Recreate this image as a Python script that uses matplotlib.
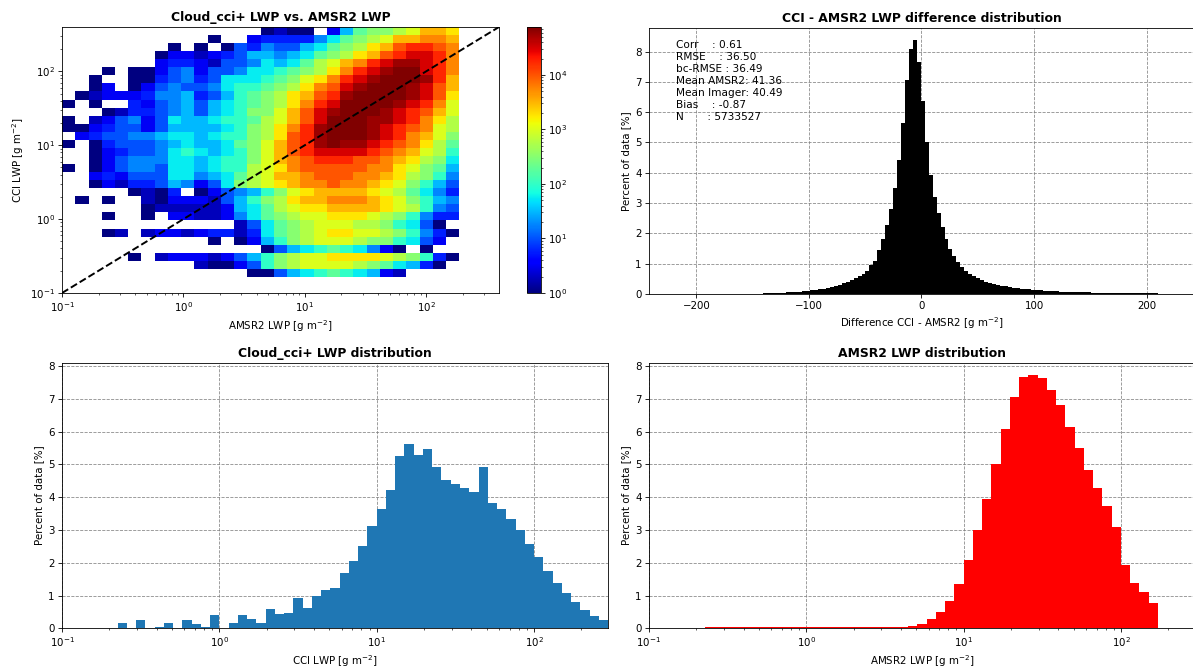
import numpy as np
import matplotlib
matplotlib.use('Agg')
import matplotlib.pyplot as plt
from matplotlib.colors import LogNorm

# ---- 2D histogram (CCI vs AMSR2), one char per cell, top row first ----
# char index in LEVELS * 0.25 = log10(count); '.' = empty cell
LEVELS = "0123456789ABCDEFGHIJK"
density_rows = [
    "...............0" + "100.269AABCEED",
    "...........0..23" + "333579ABCEEFFE",
    "........0.0.0435" + "44679ABDEGHHGF",
    ".......022123466" + "5679ABDEGHIIHF",
    ".......233214" + "457679BCEFHIJJIHF",
    "...0.00245244" + "57789ABDFHIJKKIHF",
    "..0..00345347" + "7789ACDFHIJKKKJHE",
    "..02.02454457" + "889ABDFGIJKKKJIGE",
    ".012223556346" + "89ABDEGHJKKKKJIGD",
    "0.0..32456467" + "89ABDFHIKKKKJIHFC",
    "...0133456467" + "8AACEGIJKKKJIHGEC",
    "0.12452476678" + "89BCEGIKKKJJIHFDB",
    "0023442466667" + "8ABDFHJKKKJIHGFCB",
    ".234455677678" + "8ABDGHJKKKJIHFECA",
    "0.03444567667" + "9ACEGHJKJJIHGFDB9",
    "..02344578767" + "8ACEGHIIIIHGFECB8",
    "..02455577678" + "8ACEFGHHHGGFEDBA7",
    "0.02455477678" + "8BCDFGGGGGFFDCA96",
    "..23244477567" + "9BCEEFGGGFFEDBA85",
    "..02133465247" + "ABCDEFFGFFEDCA864",
    ".....0103.024" + "568ACDEEEEDCB9753",
    ".0.0..1022214" + "68ABDEEFFFEDCA865",
    "......0111112" + "679BCDDEEEEDCB854",
    "...0..0.22112" + "579ABCCDDDCBA8533",
    ".............147" + "9ABCCCBBA8740.",
    "...01.1221233137" + "9ABCDDCCBA8530",
    "...........0.026" + "8ABCCCBAA8742.",
    "...............0" + "4678987520.0..",
    ".....0.122212468" + "ABCCDDDDCBA830",
    "..........100248" + "ABCCCCBA97630.",
    "..............00" + "4678987621....",
    "................" + "..............",
    "................" + "..............",
]

# ---- difference histogram, CCI - AMSR2 [% of data], 100 bins ----
diff_range = (-141, 210)
diff_pct = [
    0.03, 0.03, 0.03, 0.035, 0.04, 0.045, 0.05, 0.06, 0.07, 0.08,
    0.09, 0.11, 0.12, 0.14, 0.16, 0.18, 0.21, 0.24, 0.27, 0.31,
    0.35, 0.40, 0.46, 0.52, 0.59, 0.66, 0.75, 0.95, 1.10, 1.45,
    1.80, 2.27, 2.80, 3.50, 4.42, 5.65, 7.05, 8.10, 8.37, 7.65,
    6.37, 5.00, 3.93, 3.20, 2.66, 2.22, 1.80, 1.50, 1.25, 1.05,
    0.89, 0.77, 0.67, 0.59, 0.52, 0.46, 0.41, 0.37, 0.33, 0.30,
    0.27, 0.25, 0.23, 0.21, 0.19, 0.18, 0.16, 0.15, 0.14, 0.13,
    0.12, 0.11, 0.10, 0.09, 0.085, 0.08, 0.075, 0.07, 0.065, 0.06,
    0.055, 0.05, 0.05, 0.045, 0.045, 0.04, 0.04, 0.04, 0.035, 0.035,
    0.035, 0.03, 0.03, 0.03, 0.03, 0.03, 0.03, 0.025, 0.025, 0.025,
]
stats_labels = ['Corr', 'RMSE', 'bc-RMSE', 'Mean AMSR2', 'Mean Imager', 'Bias', 'N']
stats_values = ['0.61', '36.50', '36.49', '41.36', '40.49', '-0.87', '5733527']

# ---- LWP distributions [% of data], 59 log bins (17 per decade from 0.1) ----
cci_pct = [
    0, 0, 0, 0, 0, 0.02, 0.17, 0, 0.25, 0,
    0.03, 0.17, 0, 0.25, 0.13, 0.03, 0.42, 0, 0.17, 0.42,
    0.28, 0.17, 0.58, 0.44, 0.46, 0.92, 0.62, 0.98, 1.17, 1.24,
    1.70, 2.05, 2.52, 3.12, 3.63, 4.21, 5.25, 5.62, 5.30, 5.48,
    4.92, 4.52, 4.40, 4.27, 4.15, 4.93, 3.83, 3.65, 3.32, 3.01,
    2.58, 2.19, 1.75, 1.39, 1.09, 0.79, 0.55, 0.38, 0.26,
]
amsr_pct = [
    0, 0, 0, 0, 0, 0, 0.03, 0.03, 0.03, 0.03,
    0.03, 0.03, 0.03, 0.03, 0.03, 0.03, 0.03, 0.03, 0.03, 0.03,
    0.03, 0.03, 0.03, 0.03, 0.03, 0.03, 0.04, 0.05, 0.08, 0.14,
    0.28, 0.50, 0.83, 1.34, 2.07, 3.00, 3.94, 5.00, 6.07, 7.05,
    7.67, 7.72, 7.63, 7.27, 6.80, 6.15, 5.50, 4.82, 4.27, 3.72,
    3.08, 1.92, 1.39, 1.12, 0.77, 0, 0, 0, 0,
]

plt.rcParams.update({
    'font.size': 7.4,
    'axes.linewidth': 0.6,
    'axes.titlepad': 4.4,
    'axes.labelpad': 3,
    'xtick.major.size': 2.6, 'ytick.major.size': 2.6,
    'xtick.minor.size': 1.5, 'ytick.minor.size': 1.5,
    'xtick.major.width': 0.6, 'ytick.major.width': 0.6,
    'xtick.minor.width': 0.45, 'ytick.minor.width': 0.45,
    'xtick.major.pad': 2.6, 'ytick.major.pad': 2.6,
})
unit = r'[g m$^{-2}$]'


def style_grid(ax):
    ax.set_axisbelow(True)
    ax.grid(True, which='major', linestyle='--', color='gray', linewidth=0.6, alpha=0.9)


fig = plt.figure(figsize=(11.93, 6.68), dpi=100)

# -- top left: 2D histogram --
ax = fig.add_axes([0.0520, 0.5614, 0.3663, 0.3982])
cax = fig.add_axes([0.4417, 0.5614, 0.0117, 0.3982])
edges_2d = np.logspace(-1, 2.6, 34)
grid = np.full((33, 30), np.nan)
for i, row in enumerate(density_rows[::-1]):
    for j, ch in enumerate(row):
        if ch != '.':
            grid[i, j] = 10 ** (LEVELS.index(ch) * 0.25)
mesh = ax.pcolormesh(edges_2d[:31], edges_2d, np.ma.masked_invalid(grid),
                     cmap='jet', norm=LogNorm(vmin=1, vmax=7.6e4))
ax.plot(edges_2d[[0, -1]], edges_2d[[0, -1]], 'k--', linewidth=1.4)
ax.set_xscale('log')
ax.set_yscale('log')
ax.set_xlim(edges_2d[0], edges_2d[-1])
ax.set_ylim(edges_2d[0], edges_2d[-1])
ax.set_title('Cloud_cci+ LWP vs. AMSR2 LWP', fontweight='bold')
ax.set_xlabel('AMSR2 LWP ' + unit)
ax.set_ylabel('CCI LWP ' + unit)
cb = fig.colorbar(mesh, cax=cax)
cb.outline.set_linewidth(0.6)

# -- top right: difference distribution --
ax = fig.add_axes([0.5440, 0.5599, 0.4568, 0.3987])
diff_edges = np.linspace(diff_range[0], diff_range[1], len(diff_pct) + 1)
ax.hist(diff_edges[:-1], bins=diff_edges, weights=diff_pct, color='black')
ax.set_xlim(-242, 242)
style_grid(ax)
ax.set_title('CCI - AMSR2 LWP difference distribution', fontweight='bold')
ax.set_xlabel('Difference CCI - AMSR2 ' + unit)
ax.set_ylabel('Percent of data [%]')
stats_text = '\n'.join(f'{lab:8s}: {val}' for lab, val in zip(stats_labels, stats_values))
ax.text(0.05, 0.955, stats_text, transform=ax.transAxes, va='top', ha='left',
        fontsize=7.6, linespacing=1.25)

# -- bottom: LWP distributions --
dist_edges = np.logspace(-1, -1 + len(cci_pct) / 17, len(cci_pct) + 1)
panels = [
    ([0.0520, 0.0594, 0.4577, 0.3976], cci_pct, '#1f77b4', 'Cloud_cci+ LWP distribution', 'CCI LWP '),
    ([0.5440, 0.0594, 0.4577, 0.3976], amsr_pct, 'red', 'AMSR2 LWP distribution', 'AMSR2 LWP '),
]
for rect, pct, color, title, xlab in panels:
    ax = fig.add_axes(rect)
    ax.hist(dist_edges[:-1], bins=dist_edges, weights=pct, color=color)
    ax.set_xscale('log')
    ax.set_xlim(dist_edges[0], dist_edges[-1])
    ax.set_ylim(0, 8.1)
    style_grid(ax)
    ax.set_title(title, fontweight='bold')
    ax.set_xlabel(xlab + unit)
    ax.set_ylabel('Percent of data [%]')

fig.savefig('out.png', dpi=100)
